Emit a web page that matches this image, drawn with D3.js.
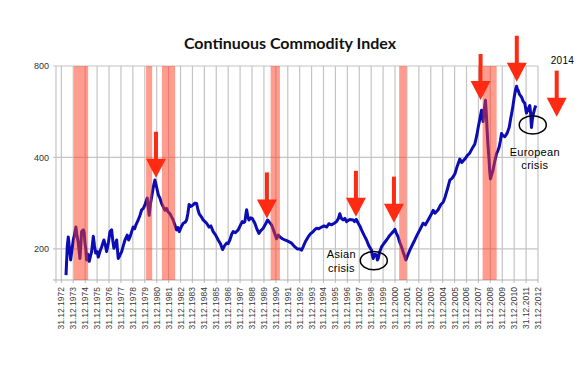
<!DOCTYPE html>
<html>
<head>
<meta charset="utf-8">
<script src="https://cdn.jsdelivr.net/npm/d3@7"></script>
<style>
  body { margin: 0; background: #fff; }
  text { font-family: "Liberation Sans", Arial, sans-serif; }
</style>
</head>
<body>
<script>
// decimal years (31.12.1972 == 1973.0) and index level
const years = [
  1973.39, 1973.50, 1973.58, 1973.68, 1973.78, 1973.90, 1974.00, 1974.10, 1974.22, 1974.32,
  1974.42, 1974.56, 1974.63, 1974.70, 1974.84, 1974.92, 1974.98, 1975.05, 1975.12, 1975.22,
  1975.34, 1975.45, 1975.54, 1975.68, 1975.78, 1975.88, 1976.00, 1976.10, 1976.25, 1976.38,
  1976.57, 1976.70, 1976.80, 1976.95, 1977.08, 1977.22, 1977.32, 1977.41, 1977.52, 1977.64,
  1977.77, 1977.90, 1978.06, 1978.20, 1978.34, 1978.53, 1978.65, 1978.76, 1978.90, 1979.03,
  1979.15, 1979.26, 1979.45, 1979.60, 1979.74, 1979.88, 1980.01, 1980.21, 1980.30, 1980.37,
  1980.47, 1980.58, 1980.72, 1980.85, 1980.95, 1981.05, 1981.15, 1981.27, 1981.40, 1981.55,
  1981.70, 1981.83, 1981.95, 1982.11, 1982.25, 1982.39, 1982.52, 1982.67, 1982.78, 1982.89,
  1983.05, 1983.23, 1983.40, 1983.51, 1983.62, 1983.72, 1983.85, 1984.00, 1984.20, 1984.35,
  1984.45, 1984.57, 1984.75, 1984.90, 1985.05, 1985.19, 1985.40, 1985.55, 1985.74, 1985.95,
  1986.16, 1986.35, 1986.53, 1986.70, 1986.87, 1987.00, 1987.14, 1987.30, 1987.42, 1987.60,
  1987.84, 1988.00, 1988.18, 1988.30, 1988.40, 1988.50, 1988.55, 1988.65, 1988.74, 1988.88,
  1989.02, 1989.24, 1989.40, 1989.58, 1989.75, 1989.94, 1990.10, 1990.31, 1990.45, 1990.64,
  1990.85, 1991.06, 1991.20, 1991.34, 1991.55, 1991.76, 1992.00, 1992.32, 1992.45, 1992.60,
  1992.80, 1993.02, 1993.15, 1993.29, 1993.50, 1993.71, 1993.90, 1994.13, 1994.30, 1994.42,
  1994.60, 1994.84, 1995.05, 1995.26, 1995.45, 1995.68, 1995.90, 1996.10, 1996.25, 1996.37,
  1996.50, 1996.65, 1996.80, 1996.93, 1997.20, 1997.49, 1997.60, 1997.75, 1997.91, 1998.05,
  1998.19, 1998.40, 1998.61, 1998.80, 1999.03, 1999.10, 1999.17, 1999.30, 1999.45, 1999.52,
  1999.59, 1999.70, 1999.87, 2000.05, 2000.29, 2000.50, 2000.71, 2000.85, 2000.99, 2001.10,
  2001.26, 2001.40, 2001.55, 2001.75, 2001.91, 2002.05, 2002.24, 2002.45, 2002.66, 2002.85,
  2003.08, 2003.20, 2003.36, 2003.55, 2003.78, 2004.00, 2004.20, 2004.35, 2004.62, 2004.85,
  2005.04, 2005.20, 2005.40, 2005.60, 2005.80, 2006.02, 2006.20, 2006.44, 2006.60, 2006.86,
  2007.05, 2007.28, 2007.50, 2007.70, 2007.85, 2007.98, 2008.10, 2008.26, 2008.39, 2008.50,
  2008.59, 2008.66, 2008.73, 2008.80, 2008.89, 2008.95, 2009.01, 2009.12, 2009.23, 2009.38,
  2009.52, 2009.62, 2009.74, 2009.85, 2009.94, 2010.05, 2010.22, 2010.40, 2010.58, 2010.72,
  2010.86, 2011.00, 2011.12, 2011.20, 2011.27, 2011.33, 2011.45, 2011.62, 2011.75, 2011.89,
  2012.03, 2012.15, 2012.31, 2012.38, 2012.45, 2012.52, 2012.58, 2012.70, 2012.81
];
const values = [
  164, 205, 219, 200, 184, 200, 214, 222, 236, 220,
  209, 186, 205, 228, 231, 226, 209, 200, 184, 192,
  182, 190, 196, 220, 205, 194, 196, 188, 197, 203,
  214, 205, 196, 210, 228, 231, 212, 201, 208, 214,
  186, 190, 196, 205, 214, 222, 214, 219, 228, 236,
  233, 240, 249, 258, 269, 272, 279, 294, 272, 258,
  280, 297, 320, 337, 325, 312, 300, 294, 283, 275,
  268, 272, 265, 261, 255, 249, 240, 231, 235, 228,
  236, 243, 245, 249, 262, 280, 276, 278, 283, 282,
  270, 261, 255, 249, 246, 243, 236, 238, 228, 222,
  214, 208, 199, 205, 209, 208, 214, 224, 228, 226,
  231, 238, 246, 244, 246, 262, 269, 255, 249, 253,
  252, 243, 233, 225, 230, 234, 240, 249, 245, 240,
  228, 216, 222, 219, 216, 214, 212, 209, 206, 203,
  200, 200, 198, 203, 212, 219, 224, 228, 232, 234,
  233, 236, 238, 236, 242, 240, 243, 246, 252, 261,
  252, 249, 252, 246, 250, 249, 246, 250, 243, 238,
  231, 222, 214, 205, 198, 190, 186, 192, 191, 184,
  186, 195, 203, 208, 214, 220, 225, 228, 232, 226,
  219, 210, 203, 192, 184, 190, 198, 206, 214, 222,
  231, 236, 243, 240, 249, 258, 268, 262, 269, 280,
  285, 296, 315, 337, 342, 353, 372, 395, 385, 395,
  405, 414, 430, 443, 470, 502, 530, 572, 525, 580,
  617, 560, 492, 440, 395, 360, 340, 352, 364, 390,
  412, 420, 433, 455, 480, 472, 468, 480, 502, 540,
  578, 630, 670, 686, 672, 666, 645, 632, 612, 603,
  560, 575, 593, 560, 502, 530, 550, 575, 593
];

const tickYears = d3.range(1973, 2014);          // gridline at 31.12 of the year before
const yTicks = [200, 400, 800];
const recessionStarts = [1974.05, 1980.11, 1981.44, 1990.56, 2001.35, 2008.35];
const recessionEnds   = [1975.25, 1980.62, 1982.55, 1991.34, 2001.97, 2009.53];
const arrowYears  = [1980.94, 1990.25, 1997.72, 2000.91, 2008.18, 2011.22, 2014.57];
const arrowValues = [343, 252, 255, 244, 618, 710, 545];
const circleYears  = [1999.22, 2012.56];
const circleValues = [183, 512];
const noteLines  = ["Asian", "crisis", "European", "crisis", "2014"];
const noteYears  = [1996.5, 1996.5, 2012.73, 2012.73, 2015.05];
const noteValues = [186, 168, 403, 366, 812];

const w = 580;
const h = 367;

const svg = d3.select("body")
  .append("svg")
  .attr("width", w)
  .attr("height", h);

const x = d3.scaleLinear().domain([1972.55, 2013]).range([56, 538]);
const y = d3.scaleLog().domain([158, 800]).range([280, 66]);

const grid = "#c4c4c4";

// title
svg.append("text")
  .attr("x", 290)
  .attr("y", 49)
  .attr("text-anchor", "middle")
  .style("font-family", "Lato, 'Open Sans', sans-serif")
  .style("font-weight", "bold")
  .style("font-size", "16px")
  .attr("fill", "#111")
  .text("Continuous Commodity Index");

// vertical gridlines
svg.append("g")
  .selectAll("line")
  .data(tickYears)
  .enter()
  .append("line")
  .attr("x1", (d) => x(d))
  .attr("x2", (d) => x(d))
  .attr("y1", y(800))
  .attr("y2", 283)
  .attr("stroke", grid)
  .attr("stroke-width", 1.2);

// horizontal gridlines
svg.append("g")
  .selectAll("line")
  .data(yTicks)
  .enter()
  .append("line")
  .attr("x1", 53)
  .attr("x2", x(2013))
  .attr("y1", (d) => y(d))
  .attr("y2", (d) => y(d))
  .attr("stroke", grid)
  .attr("stroke-width", 1.2);

// frame: left and bottom
svg.append("line")
  .attr("x1", x.range()[0]).attr("x2", x.range()[0])
  .attr("y1", y(800)).attr("y2", 283)
  .attr("stroke", grid).attr("stroke-width", 1.2);
svg.append("line")
  .attr("x1", 53).attr("x2", x(2013))
  .attr("y1", 280).attr("y2", 280)
  .attr("stroke", "#b0b0b0").attr("stroke-width", 1.2);

// y labels
svg.append("g")
  .selectAll("text")
  .data(yTicks)
  .enter()
  .append("text")
  .attr("x", 49)
  .attr("y", (d) => y(d))
  .attr("dy", "0.35em")
  .attr("text-anchor", "end")
  .style("font-size", "9px")
  .attr("fill", "#333")
  .text((d) => d);

// x labels
svg.append("g")
  .selectAll("text")
  .data(tickYears)
  .enter()
  .append("text")
  .attr("transform", (d) => `translate(${x(d)},287) rotate(-90)`)
  .attr("dy", "0.35em")
  .attr("text-anchor", "end")
  .style("font-size", "8.5px")
  .attr("fill", "#3a3a3a")
  .text((d) => `31.12.${d - 1}`);

// index line
const line = d3.line()
  .x((d, i) => x(years[i]))
  .y((d) => y(d));

svg.append("path")
  .datum(values)
  .attr("d", line)
  .attr("fill", "none")
  .attr("stroke", "#0c0cb4")
  .attr("stroke-width", 3)
  .attr("stroke-linejoin", "round");

// recession bands, translucent over the line
svg.append("g")
  .selectAll("rect")
  .data(recessionStarts)
  .enter()
  .append("rect")
  .attr("x", (d) => x(d))
  .attr("width", (d, i) => x(recessionEnds[i]) - x(d))
  .attr("y", y(800))
  .attr("height", 280 - y(800))
  .attr("fill", "#ff3a1c")
  .attr("opacity", 0.5);

// red arrows
const arrows = svg.append("g")
  .selectAll("g")
  .data(arrowYears)
  .enter()
  .append("g")
  .attr("transform", (d, i) => `translate(${x(d)},${y(arrowValues[i])})`)
  .attr("fill", "#ff2a12");

arrows.append("rect")
  .attr("x", -2)
  .attr("y", -46)
  .attr("width", 4)
  .attr("height", 28);

arrows.append("path")
  .attr("d", "M-10,-19L10,-19L0,0Z");

// circles round the crises
svg.append("g")
  .selectAll("ellipse")
  .data(circleYears)
  .enter()
  .append("ellipse")
  .attr("cx", (d) => x(d))
  .attr("cy", (d, i) => y(circleValues[i]))
  .attr("rx", 13.5)
  .attr("ry", 9.2)
  .attr("fill", "none")
  .attr("stroke", "#000")
  .attr("stroke-width", 1.5);

// notes
svg.append("g")
  .selectAll("text")
  .data(noteLines)
  .enter()
  .append("text")
  .attr("x", (d, i) => x(noteYears[i]))
  .attr("y", (d, i) => y(noteValues[i]))
  .attr("text-anchor", "middle")
  .style("font-size", (d) => d === "2014" ? "10px" : "11px")
  .style("letter-spacing", "0.3px")
  .attr("fill", "#000")
  .text((d) => d);
</script>
</body>
</html>
